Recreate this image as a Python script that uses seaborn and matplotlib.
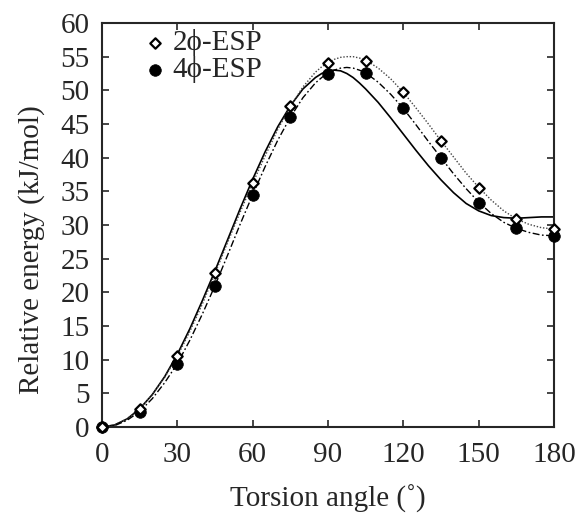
import numpy as np
import pandas as pd
import matplotlib
matplotlib.use("Agg")
import matplotlib.pyplot as plt
import seaborn as sns

# ---- data ----
angles = [0, 15, 30, 45, 60, 75, 90, 105, 120, 135, 150, 165, 180]
esp2 = [0.0, 2.7, 10.6, 22.9, 36.2, 47.6, 54.0, 54.3, 49.7, 42.5, 35.5, 30.9, 29.4]
esp4 = [0.0, 2.3, 9.4, 20.9, 34.5, 46.0, 52.5, 52.6, 47.4, 39.9, 33.3, 29.5, 28.4]

curve_x = [0, 5, 10, 15, 20, 25, 30, 35, 40, 45, 50, 55, 60, 65, 70, 75, 80, 85, 87.5,
           90, 92.5, 95, 97.5, 100, 102.5, 105, 110, 115, 120, 125, 130, 135, 140, 145,
           150, 155, 160, 165, 170, 175, 180]
curve_solid = [0.0, 0.3, 1.2, 2.7, 4.8, 7.5, 10.8, 14.6, 18.8, 23.2, 27.8, 32.4, 36.8,
               40.9, 44.6, 47.7, 50.2, 51.9, 52.5, 52.9, 53.0, 52.9, 52.5, 51.9, 51.1,
               50.2, 48.2, 45.9, 43.5, 41.1, 38.8, 36.7, 34.8, 33.2, 32.1, 31.4, 31.1,
               31.0, 31.1, 31.2, 31.2]
curve_dotted = [0.0, 0.3, 1.2, 2.7, 4.8, 7.4, 10.5, 14.2, 18.3, 22.8, 27.4, 31.9, 36.2,
                40.3, 44.2, 47.6, 50.5, 52.7, 53.5, 54.1, 54.6, 54.9, 55.0, 55.0, 54.8,
                54.5, 53.3, 51.7, 49.7, 47.4, 45.0, 42.5, 40.1, 37.7, 35.6, 33.7, 32.1,
                30.9, 30.1, 29.6, 29.4]
curve_dashdot = [0.0, 0.2, 1.0, 2.3, 4.2, 6.6, 9.4, 12.9, 16.8, 21.0, 25.5, 30.1, 34.5,
                 38.7, 42.6, 46.0, 48.9, 51.1, 51.9, 52.6, 53.0, 53.3, 53.4, 53.3, 53.0,
                 52.6, 51.2, 49.4, 47.3, 44.9, 42.4, 40.0, 37.6, 35.4, 33.4, 31.7, 30.4,
                 29.5, 28.9, 28.5, 28.4]

xticks = [0, 30, 60, 90, 120, 150, 180]
yticks = list(range(0, 61, 5))

# ---- style ----
sns.set_style("ticks")
plt.rcParams['font.family'] = ['Liberation Serif', 'DejaVu Serif']

fig = plt.figure(figsize=(5.75, 5.14), dpi=100)
ax = fig.add_axes([102/575, 1 - 427/514, 452/575, 404/514])

curves = pd.DataFrame({"x": curve_x, "solid": curve_solid,
                       "dotted": curve_dotted, "dashdot": curve_dashdot})
sns.lineplot(data=curves, x="x", y="solid", ax=ax, color="black", lw=1.2, zorder=2)
sns.lineplot(data=curves, x="x", y="dotted", ax=ax, color="#444444", lw=1.0,
             linestyle=(0, (1, 1.3)), zorder=2)
sns.lineplot(data=curves, x="x", y="dashdot", ax=ax, color="black", lw=1.0,
             linestyle=(0, (5, 1.8, 1.2, 1.8)), zorder=2)

pts = pd.DataFrame({"x": angles, "a": esp2, "b": esp4})
sns.scatterplot(data=pts, x="x", y="b", ax=ax, marker="o", s=70, color="black",
                edgecolor="black", linewidth=0.5, zorder=3, label="4\u03d5-ESP",
                clip_on=False)
sns.scatterplot(data=pts, x="x", y="a", ax=ax, marker="D", s=28, facecolor="white",
                edgecolor="black", linewidth=1.6, zorder=4, label="2\u03d5-ESP",
                clip_on=False)

ax.set_xlim(0, 180)
ax.set_ylim(0, 60)
ax.set_xticks(xticks)
ax.set_yticks(yticks)
ax.tick_params(direction="in", top=True, right=True, length=5, width=1.2,
               labelsize=21, pad=9)
ax.tick_params(axis="x", pad=11)
for s in ax.spines.values():
    s.set_linewidth(1.5)
    s.set_visible(True)
ax.set_xlabel("Torsion angle (\u02da)", fontsize=21, labelpad=12)
ax.set_ylabel("Relative energy (kJ/mol)", fontsize=21)
ax.yaxis.set_label_coords(-0.125, 0.44)

h, l = ax.get_legend_handles_labels()
ax.legend([h[1], h[0]], [l[1], l[0]], loc="upper left", bbox_to_anchor=(0.04, 1.035),
          frameon=False, fontsize=21, handletextpad=0.1, borderpad=0.2,
          labelspacing=0.0, handlelength=1.0)

fig.savefig("out.png", dpi=100)
